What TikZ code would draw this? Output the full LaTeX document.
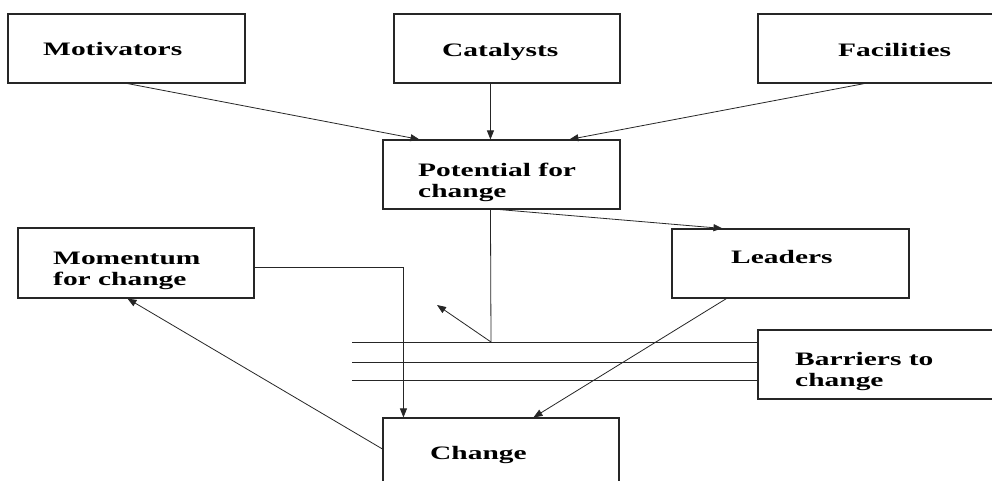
\documentclass[tikz,border=0pt]{standalone}
\usepackage{fontspec}
\setmainfont{Liberation Serif}
\usetikzlibrary{arrows.meta}
\newcommand{\wide}[1]{\scalebox{1.55}[1]{#1}}
\begin{document}
\begin{tikzpicture}[x=1pt,y=-1pt,
  box/.style={draw=black!85,line width=1.1pt,rectangle,inner sep=0pt,
              minimum width=#1,minimum height=69pt},
  box/.default=237pt,
  lbl/.style={anchor=base west,inner sep=0pt,align=left,
              font=\fontsize{19}{21}\selectfont\bfseries},
  conn/.style={draw=black!85,line width=0.8pt},
  arr/.style={conn,-{Triangle[length=9pt,width=7pt]}}]
\useasboundingbox (0,0) rectangle (992,481);
\clip (0,0) rectangle (992,481);
\fill[white] (0,0) rectangle (992,481);

% boxes
\node[box=237pt] (mot) at (126.5,48.5) {};
\node[box=226pt] (cat) at (507,48.5) {};
\node[box=252pt] (fac) at (884,48.5) {};
\node[box=237pt] (pot) at (501.5,174.5) {};
\node[box=237pt] (lead) at (790.5,263.5) {};
\node[box=236pt,minimum height=70pt] (mom) at (136,263) {};
\node[box=252pt] (bar) at (884,364.5) {};
\node[box=236pt] (chg) at (501,452.5) {};

% labels (two-line labels are placed by the baseline of their last line)
\node[lbl] (motT) at (43,56) {\wide{Motivators}};
\node[lbl] (catT) at (442,57) {\wide{Catalysts}};
\node[lbl] (facT) at (838,57) {\wide{Facilities}};
\node[lbl] (potT) at (418,197) {\wide{Potential for}\\\wide{change}};
\node[lbl] (leadT) at (731,263) {\wide{Leaders}};
\node[lbl] (momT) at (53,285) {\wide{Momentum}\\\wide{for change}};
\node[lbl] (barT) at (795,386) {\wide{Barriers to}\\\wide{change}};
\node[lbl] (chgT) at (430,459) {\wide{Change}};

% inputs to the potential for change
\draw[arr] ([xshift=120pt]mot.south west) -- ([xshift=37pt]pot.north west);
\draw[arr] ([xshift=97pt]cat.south west) -- ([xshift=108pt]pot.north west);
\draw[arr] ([xshift=107pt]fac.south west) -- ([xshift=187pt]pot.north west);
\draw[arr] ([xshift=117pt]pot.south west) -- ([xshift=51pt]lead.north west);

% potential pushing against the barriers and deflected
\coordinate (hit) at (491,342);
\coordinate (back) at (437,305);
\draw[conn] ([xshift=108pt]pot.south west) -- (hit);
\draw[arr] (hit) -- (back);

% the barrier lines
\coordinate (b1) at (352,342);
\coordinate (b2) at (352,362);
\coordinate (b3) at (352,380);
\draw[conn] (b1) -- (b1 -| bar.west);
\draw[conn] (b2) -- (b2 -| bar.west);
\draw[conn] (b3) -- (b3 -| bar.west);

% routes to and from change
\draw[arr] ([yshift=-4pt]mom.east) -| ([xshift=21pt]chg.north west);
\draw[arr] ([xshift=55pt]lead.south west) -- ([xshift=151pt]chg.north west);
\draw[arr] ([yshift=3.5pt]chg.west) -- ([xshift=110pt]mom.south west);
\end{tikzpicture}
\end{document}
